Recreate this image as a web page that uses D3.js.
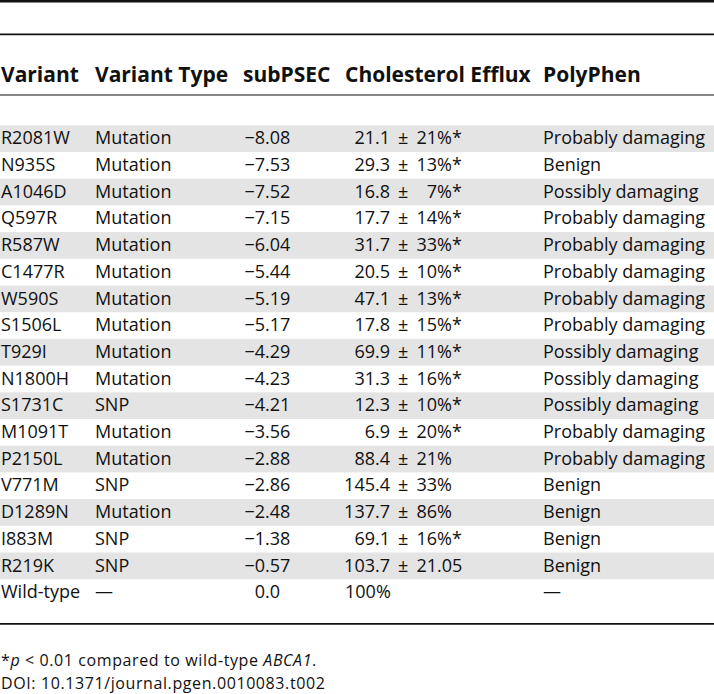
<!DOCTYPE html>
<html>
<head>
<meta charset="utf-8">
<script src="https://cdn.jsdelivr.net/npm/d3@7"></script>
<style>
  html, body { margin: 0; padding: 0; background: #fff; }
  svg { display: block; font-family: "Open Sans", sans-serif; }
</style>
</head>
<body>
<svg id="table" width="714" height="694"></svg>
<script>
// ── Table data ──
const headers = ['Variant', 'Variant Type', 'subPSEC', 'Cholesterol Efflux', 'PolyPhen'];
const variants = ['R2081W', 'N935S', 'A1046D', 'Q597R', 'R587W', 'C1477R', 'W590S', 'S1506L', 'T929I',
  'N1800H', 'S1731C', 'M1091T', 'P2150L', 'V771M', 'D1289N', 'I883M', 'R219K', 'Wild-type'];
const variantTypes = ['Mutation', 'Mutation', 'Mutation', 'Mutation', 'Mutation', 'Mutation', 'Mutation',
  'Mutation', 'Mutation', 'Mutation', 'SNP', 'Mutation', 'Mutation', 'SNP', 'Mutation', 'SNP', 'SNP', '—'];
const subPSEC = [-8.08, -7.53, -7.52, -7.15, -6.04, -5.44, -5.19, -5.17, -4.29, -4.23, -4.21, -3.56,
  -2.88, -2.86, -2.48, -1.38, -0.57, 0.0];
const effluxMean = [21.1, 29.3, 16.8, 17.7, 31.7, 20.5, 47.1, 17.8, 69.9, 31.3, 12.3, 6.9, 88.4, 145.4,
  137.7, 69.1, 103.7, 100];
const effluxSD = ['21%*', '13%*', '7%*', '14%*', '33%*', '10%*', '13%*', '15%*', '11%*', '16%*', '10%*',
  '20%*', '21%', '33%', '86%', '16%*', '21.05', null];
const polyPhen = ['Probably damaging', 'Benign', 'Possibly damaging', 'Probably damaging', 'Probably damaging',
  'Probably damaging', 'Probably damaging', 'Probably damaging', 'Possibly damaging', 'Possibly damaging',
  'Possibly damaging', 'Probably damaging', 'Probably damaging', 'Benign', 'Benign', 'Benign', 'Benign', '—'];
const footnote = { star: '*', p: 'p', rest: ' < 0.01 compared to wild-type ', gene: 'ABCA1', end: '.' };
const doi = 'DOI: 10.1371/journal.pgen.0010083.t002';

(function() {
  const W = 714;
  const ink = '#111', shade = '#e4e4e4';
  const svg = d3.select('#table');

  // row bands
  const y = d3.scaleBand().domain(variants).range([125.3, 125.3 + 26.7 * variants.length]).padding(0);

  // column anchors
  const col = d3.scaleOrdinal()
    .domain(['variant', 'type', 'psecHead', 'psecDot', 'effHead', 'effMean', 'pm', 'sdInt', 'poly'])
    .range([1, 95, 243, 265, 345, 390, 398, 437, 543]);

  // shading on alternate rows
  svg.append('g').selectAll('rect')
    .data(variants.filter((d, i) => i % 2 === 0)).join('rect')
    .attr('x', 0).attr('width', W)
    .attr('y', d => y(d)).attr('height', y.bandwidth())
    .attr('fill', shade);

  // rules
  const rules = [[1.2, 2.4], [34.3, 1.8], [95, 1.2], [623.8, 1.8]];
  svg.append('g').selectAll('line').data(rules).join('line')
    .attr('x1', 0).attr('x2', W)
    .attr('y1', d => d[0]).attr('y2', d => d[0])
    .attr('stroke', ink).attr('stroke-width', d => d[1]);

  // header
  const headX = [col('variant'), col('type'), col('psecHead'), col('effHead'), col('poly')];
  svg.append('g').selectAll('text').data(headers).join('text')
    .attr('x', (d, i) => headX[i]).attr('y', 82.3)
    .attr('font-size', '21px').attr('font-weight', 700).attr('fill', ink)
    .text(d => d);

  // body rows
  const body = svg.append('g').attr('font-size', '18px').attr('fill', ink);
  const rows = body.selectAll('g').data(variants).join('g')
    .attr('transform', d => 'translate(0,' + (y(d) + 19) + ')');

  rows.append('text').attr('x', col('variant')).text(d => d);
  rows.append('text').attr('x', col('type')).text((d, i) => variantTypes[i]);

  // subPSEC, decimal-aligned
  const psecStr = v => v === 0 ? '0.0' : (v < 0 ? '\u2212' : '') + Math.abs(v).toFixed(2);
  rows.append('text').attr('x', col('psecDot')).attr('text-anchor', 'end')
    .text((d, i) => psecStr(subPSEC[i]).split('.')[0]);
  rows.append('text').attr('x', col('psecDot'))
    .text((d, i) => '.' + psecStr(subPSEC[i]).split('.')[1]);

  // cholesterol efflux
  rows.each(function(d, i) {
    const g = d3.select(this);
    if (effluxSD[i] === null) {
      g.append('text').attr('x', col('effHead')).text(effluxMean[i] + '%');
      return;
    }
    g.append('text').attr('x', col('effMean')).attr('text-anchor', 'end').text(effluxMean[i].toFixed(1));
    g.append('text').attr('x', col('pm')).text('\u00b1');
    const m = effluxSD[i].match(/^(\d+)(.*)$/);
    g.append('text').attr('x', col('sdInt')).attr('text-anchor', 'end').text(m[1]);
    g.append('text').attr('x', col('sdInt')).text(m[2]);
  });

  rows.append('text').attr('x', col('poly')).text((d, i) => polyPhen[i]);

  // footnotes
  const fn = svg.append('text').attr('x', 1).attr('y', 666).attr('font-size', '16px')
    .attr('letter-spacing', '0.6px').attr('fill', ink);
  fn.append('tspan').text(footnote.star);
  fn.append('tspan').attr('font-style', 'italic').text(footnote.p);
  fn.append('tspan').text(footnote.rest);
  fn.append('tspan').attr('font-style', 'italic').text(footnote.gene);
  fn.append('tspan').text(footnote.end);
  svg.append('text').attr('x', 1).attr('y', 689).attr('font-size', '16px')
    .attr('letter-spacing', '0.6px').attr('fill', ink).text(doi);
})();
</script>
</body>
</html>
